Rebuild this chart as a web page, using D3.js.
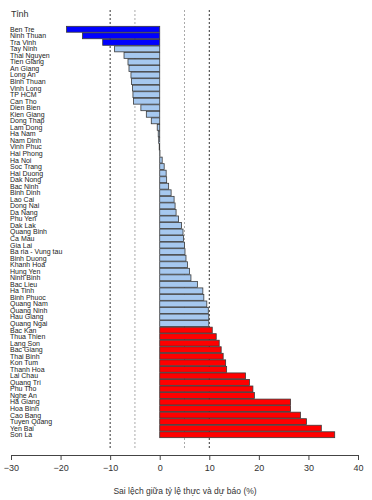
<!DOCTYPE html>
<html>
<head>
<meta charset="utf-8">
<script src="https://cdn.jsdelivr.net/npm/d3@7"></script>
<style>
  body { margin: 0; background: #fff; }
  svg { display: block; font-family: "Liberation Sans", Arial, sans-serif; }
</style>
</head>
<body>
<script>
// Provinces, top to bottom
const provinces = ["Ben Tre", "Ninh Thuan", "Tra Vinh", "Tay Ninh", "Thai Nguyen", "Tien Giang", "An Giang",
    "Long An", "Binh Thuan", "Vinh Long", "TP HCM", "Can Tho", "Dien Bien", "Kien Giang", "Dong Thap",
    "Lam Dong", "Ha Nam", "Nam Dinh", "Vinh Phuc", "Hai Phong", "Ha Noi", "Soc Trang", "Hai Duong",
    "Dak Nong", "Bac Ninh", "Binh Dinh", "Lao Cai", "Dong Nai", "Da Nang", "Phu Yen", "Dak Lak",
    "Quang Binh", "Ca Mau", "Gia Lai", "Ba ria - Vung tau", "Binh Duong", "Khanh Hoa", "Hung Yen",
    "Ninh Binh", "Bac Lieu", "Ha Tinh", "Binh Phuoc", "Quang Nam", "Quang Ninh", "Hau Giang",
    "Quang Ngai", "Bac Kan", "Thua Thien", "Lang Son", "Bac Giang", "Thai Binh", "Kon Tum",
    "Thanh Hoa", "Lai Chau", "Quang Tri", "Phu Tho", "Nghe An", "Ha Giang", "Hoa Binh", "Cao Bang",
    "Tuyen Quang", "Yen Bai", "Son La"];

// Deviation between actual and forecast rate (%)
const deviation = [-18.8, -15.6, -11.5, -9.1, -7.2, -6.4, -6.2,
    -5.8, -5.7, -5.5, -5.4, -5.3, -3.8, -2.7, -1.7,
    -0.5, -0.3, -0.2, -0.1, 0.05, 0.5, 0.9, 1.3,
    1.4, 1.8, 2.3, 2.9, 3.1, 3.3, 3.8, 4.4,
    4.7, 4.8, 5.0, 5.1, 5.3, 5.6, 6.0,
    6.3, 7.6, 8.7, 8.9, 9.5, 9.8, 9.9,
    9.9, 10.6, 11.4, 12.0, 12.4, 12.8, 13.3,
    13.5, 17.3, 18.1, 18.8, 19.1, 26.4, 26.4, 28.4,
    29.6, 32.6, 35.3];

const xTicks = [-30, -20, -10, 0, 10, 20, 30, 40];
const refLines = [-10, -5, 5, 10];

const width = 372;
const height = 500;

const svg = d3.select("body")
    .append("svg")
    .attr("width", width)
    .attr("height", height);

const x = d3.scaleLinear()
    .domain([-30, 40])
    .range([11, 358]);

const y = d3.scaleBand()
    .domain(provinces)
    .range([26, 438])
    .paddingInner(0.1)
    .paddingOuter(0.05);

// reference lines
svg.append("g")
    .selectAll("line")
    .data(refLines)
    .enter()
    .append("line")
    .attr("x1", d => x(d))
    .attr("x2", d => x(d))
    .attr("y1", 10)
    .attr("y2", 450)
    .attr("stroke", d => Math.abs(d) === 10 ? "#333" : "#aaa")
    .attr("stroke-width", 1)
    .attr("stroke-dasharray", "2,2");

// bars
svg.append("g")
    .selectAll("rect")
    .data(provinces)
    .enter()
    .append("rect")
    .attr("x", (d, i) => x(Math.min(0, deviation[i])))
    .attr("y", d => y(d))
    .attr("width", (d, i) => Math.abs(x(deviation[i]) - x(0)))
    .attr("height", y.bandwidth())
    .attr("fill", (d, i) => deviation[i] < -10 ? "#0000ff" : deviation[i] > 10 ? "#ff0000" : "#a6c8ef")
    .attr("stroke", "#3a3a3a")
    .attr("stroke-width", 0.8);

// province labels
svg.append("g")
    .selectAll("text")
    .data(provinces)
    .enter()
    .append("text")
    .attr("x", 10)
    .attr("y", d => y(d) + y.bandwidth() / 2)
    .attr("dy", "0.35em")
    .attr("font-size", "7px")
    .attr("fill", "#222")
    .text(d => d);

svg.append("text")
    .attr("x", 11)
    .attr("y", 17)
    .attr("font-size", "9px")
    .attr("fill", "#333")
    .text("Tỉnh");

// x axis
const xAxis = d3.axisBottom(x)
    .tickValues(xTicks)
    .tickSize(5)
    .tickSizeOuter(0)
    .tickPadding(5);

const ax = svg.append("g")
    .attr("transform", "translate(0,455)")
    .call(xAxis);

ax.select(".domain").attr("stroke", "#444");
ax.selectAll(".tick line").attr("stroke", "#444");
ax.selectAll(".tick text")
    .attr("font-size", "9px")
    .attr("font-family", "Liberation Sans, Arial, sans-serif")
    .attr("fill", "#333");

svg.append("text")
    .attr("x", 185)
    .attr("y", 494)
    .attr("text-anchor", "middle")
    .attr("font-size", "8.5px")
    .attr("fill", "#333")
    .text("Sai lệch giữa tỷ lệ thực và dự báo (%)");
</script>
</body>
</html>
